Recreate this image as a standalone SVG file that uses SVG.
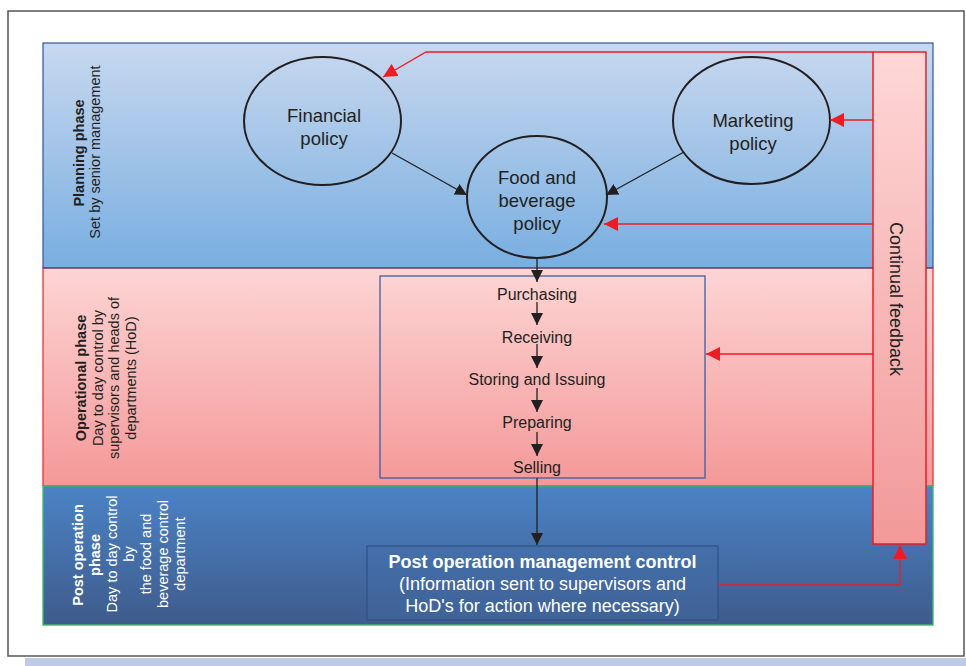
<svg xmlns="http://www.w3.org/2000/svg" width="966" height="666" viewBox="0 0 966 666">
<defs>
<linearGradient id="gPlan" x1="0" y1="0" x2="0" y2="1"><stop offset="0" stop-color="#c8d8ef"/><stop offset="1" stop-color="#78aee0"/></linearGradient>
<linearGradient id="gOp" x1="0" y1="0" x2="0" y2="1"><stop offset="0" stop-color="#fdd5d5"/><stop offset="1" stop-color="#f49898"/></linearGradient>
<linearGradient id="gPost" x1="0" y1="0" x2="0" y2="1"><stop offset="0" stop-color="#4b83c6"/><stop offset="1" stop-color="#3e5b8b"/></linearGradient>
<linearGradient id="gFb" x1="0" y1="0" x2="0" y2="1"><stop offset="0" stop-color="#fed7d7"/><stop offset="1" stop-color="#f29999"/></linearGradient>
<marker id="ab" markerWidth="14" markerHeight="12" refX="12" refY="6" orient="auto" markerUnits="userSpaceOnUse"><path d="M0,0 L12,6 L0,12 Z" fill="#231f20"/></marker>
<marker id="ar" markerWidth="16" markerHeight="14" refX="14" refY="7" orient="auto" markerUnits="userSpaceOnUse"><path d="M0,0 L14,7 L0,14 Z" fill="#ed1c24"/></marker>
</defs>
<style>
.t{font-family:"Liberation Sans",Arial,sans-serif;fill:#231f20}
.w{font-family:"Liberation Sans",Arial,sans-serif;fill:#ffffff}
.b{font-weight:bold}
.lbl{font-size:14.5px}
.ell{fill:none;stroke:#231f20;stroke-width:2}
.blk{stroke:#231f20;stroke-width:1.3;fill:none}
.red{stroke:#ed1c24;stroke-width:1.3;fill:none}
</style>
<rect x="25" y="658" width="941" height="8" fill="#bfcae6"/>
<rect x="8" y="11" width="956" height="645" fill="#ffffff" stroke="#555555" stroke-width="1.5"/>
<g id="phase-planning">
<rect x="43" y="43" width="890" height="225" fill="url(#gPlan)" stroke="#2f5496" stroke-width="1.2"/>
<text class="t lbl b" text-anchor="middle" transform="translate(83.5,153) rotate(-90)">Planning phase</text>
<text class="t lbl" text-anchor="middle" transform="translate(100,152) rotate(-90)">Set by senior management</text>
</g>
<g id="phase-operational">
<rect x="43" y="268" width="890" height="218" fill="url(#gOp)" stroke="#e8262d" stroke-width="1.2"/>
<line x1="43" y1="268" x2="933" y2="268" stroke="#2f5496" stroke-width="1.2"/>
<text class="t lbl b" text-anchor="middle" transform="translate(86,378) rotate(-90)">Operational phase</text>
<text class="t lbl" text-anchor="middle" transform="translate(102.5,378) rotate(-90)">Day to day control by</text>
<text class="t lbl" text-anchor="middle" transform="translate(119,378) rotate(-90)">supervisors and heads of</text>
<text class="t lbl" text-anchor="middle" transform="translate(135.5,378) rotate(-90)">departments (HoD)</text>
</g>
<g id="phase-post">
<rect x="43" y="486" width="890" height="139" fill="url(#gPost)" stroke="#3dba6e" stroke-width="1.4"/>
<text class="w lbl b" text-anchor="middle" transform="translate(83,555) rotate(-90)">Post operation</text>
<text class="w lbl b" text-anchor="middle" transform="translate(100,555) rotate(-90)">phase</text>
<text class="w lbl" text-anchor="middle" transform="translate(117,554) rotate(-90)">Day to day control</text>
<text class="w lbl" text-anchor="middle" transform="translate(134,554) rotate(-90)">by</text>
<text class="w lbl" text-anchor="middle" transform="translate(151,554) rotate(-90)">the food and</text>
<text class="w lbl" text-anchor="middle" transform="translate(168,554) rotate(-90)">beverage control</text>
<text class="w lbl" text-anchor="middle" transform="translate(185,554) rotate(-90)">department</text>
</g>
<g id="feedback">
<rect x="873" y="52" width="53" height="492" fill="url(#gFb)" stroke="#ed1c24" stroke-width="1.5"/>
<text class="t" font-size="18" text-anchor="middle" transform="translate(890,299) rotate(90)">Continual feedback</text>
</g>
<g id="operations-box">
<rect x="380" y="276" width="325" height="202" fill="none" stroke="#3d5fa0" stroke-width="1.3"/>
</g>
<g id="financial">
<ellipse class="ell" cx="322.5" cy="121" rx="78.5" ry="64"/>
<text class="t" font-size="18.5" text-anchor="middle" x="324" y="122">Financial</text>
<text class="t" font-size="18.5" text-anchor="middle" x="324" y="145">policy</text>
</g>
<g id="marketing">
<ellipse class="ell" cx="751.5" cy="120.5" rx="78.5" ry="63.5"/>
<text class="t" font-size="18.5" text-anchor="middle" x="753" y="127">Marketing</text>
<text class="t" font-size="18.5" text-anchor="middle" x="753" y="150">policy</text>
</g>
<g id="fnb">
<ellipse class="ell" cx="537" cy="197" rx="70" ry="61"/>
<text class="t" font-size="18.5" text-anchor="middle" x="537" y="184">Food and</text>
<text class="t" font-size="18.5" text-anchor="middle" x="537" y="207">beverage</text>
<text class="t" font-size="18.5" text-anchor="middle" x="537" y="230">policy</text>
</g>
<g id="purchasing"><text class="t" font-size="16" text-anchor="middle" x="537" y="299.5">Purchasing</text></g>
<g id="receiving"><text class="t" font-size="16" text-anchor="middle" x="537" y="342.5">Receiving</text></g>
<g id="storing"><text class="t" font-size="16" text-anchor="middle" x="537" y="385">Storing and Issuing</text></g>
<g id="preparing"><text class="t" font-size="16" text-anchor="middle" x="537" y="427.5">Preparing</text></g>
<g id="selling"><text class="t" font-size="16" text-anchor="middle" x="537" y="473">Selling</text></g>
<g id="postop">
<rect x="367" y="546" width="351" height="74" fill="#436ea8" stroke="#2e5088" stroke-width="1.2" fill-opacity="0.35"/>
<text class="w b" font-size="18" text-anchor="middle" x="542.5" y="567.5">Post operation management control</text>
<text class="w" font-size="18" text-anchor="middle" x="542.5" y="590">(Information sent to supervisors and</text>
<text class="w" font-size="18" text-anchor="middle" x="542.5" y="612">HoD's for action where necessary)</text>
</g>
<g id="connectors">
<line class="blk" x1="392" y1="153" x2="467" y2="195" marker-end="url(#ab)"/>
<line class="blk" x1="684" y1="152" x2="606" y2="195" marker-end="url(#ab)"/>
<line class="blk" x1="537" y1="258" x2="537" y2="282" marker-end="url(#ab)"/>
<line class="blk" x1="537" y1="302" x2="537" y2="325" marker-end="url(#ab)"/>
<line class="blk" x1="537" y1="344" x2="537" y2="368" marker-end="url(#ab)"/>
<line class="blk" x1="537" y1="388" x2="537" y2="412" marker-end="url(#ab)"/>
<line class="blk" x1="537" y1="432" x2="537" y2="456" marker-end="url(#ab)"/>
<line class="blk" x1="537" y1="478" x2="537" y2="545" marker-end="url(#ab)"/>
<polyline class="red" points="873,52 426,52 383,77" marker-end="url(#ar)"/>
<line class="red" x1="873" y1="120" x2="830" y2="120" marker-end="url(#ar)"/>
<line class="red" x1="873" y1="224" x2="604" y2="224" marker-end="url(#ar)"/>
<line class="red" x1="873" y1="354" x2="706" y2="354" marker-end="url(#ar)"/>
<polyline class="red" points="718,585 900,585 900,545" marker-end="url(#ar)"/>
</g>
</svg>
